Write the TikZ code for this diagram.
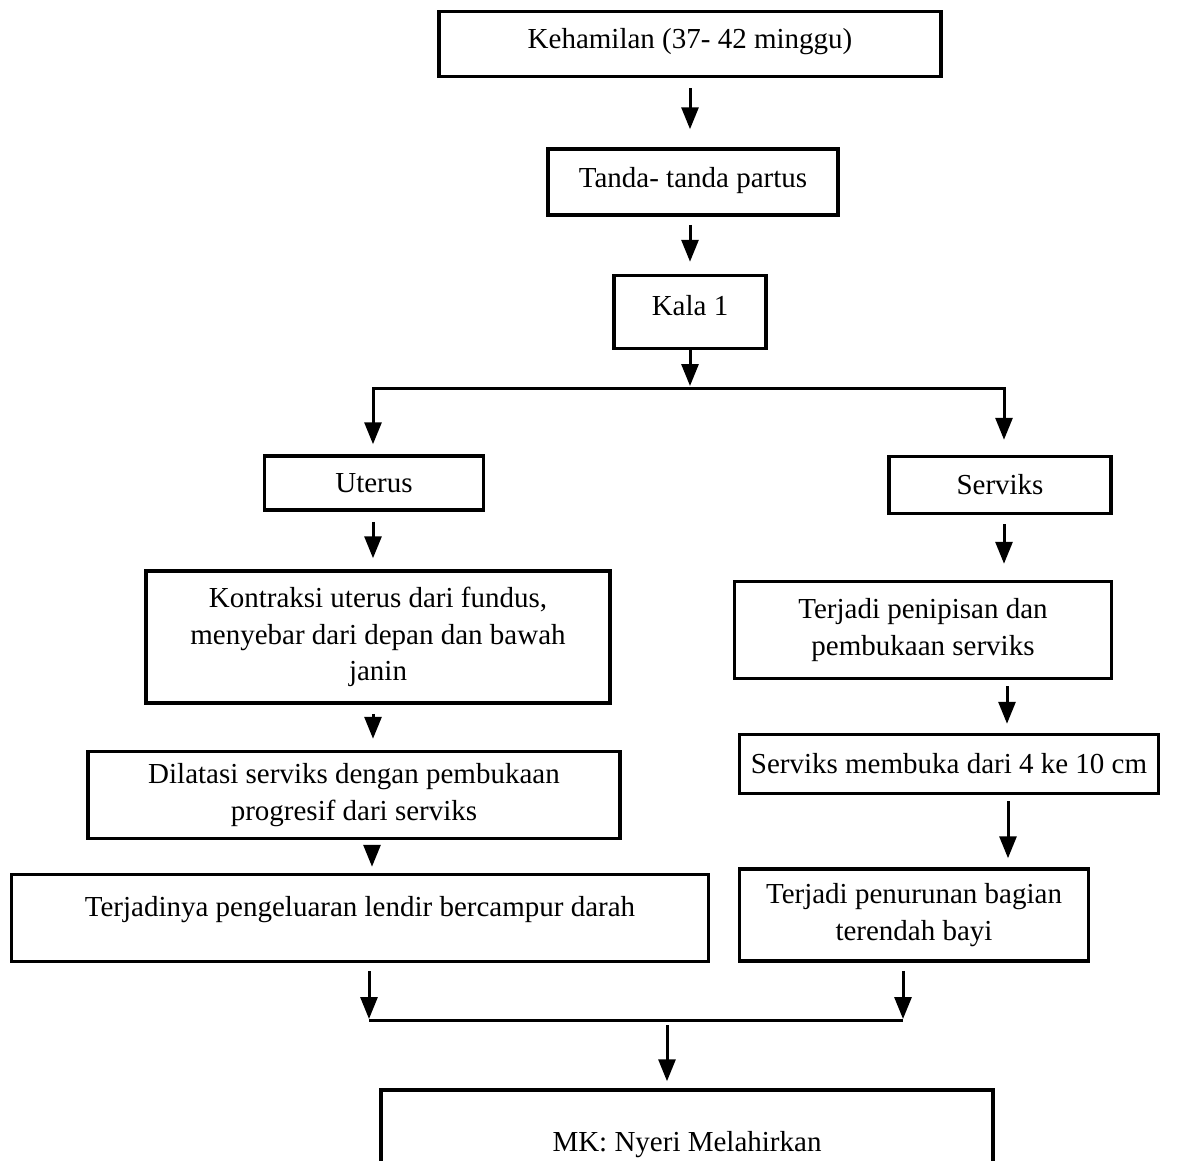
\documentclass[tikz,border=0pt]{standalone}
\usepackage{fontspec}
\setmainfont{Liberation Serif}
\usetikzlibrary{arrows.meta}

\begin{document}
\begin{tikzpicture}[x=1pt,y=-1pt,>={Triangle[width=17pt,length=22pt]},
	blok/.style={draw,rectangle,line width=3.5pt,inner sep=0pt,font=\fontsize{29}{36.5}\selectfont},
	panah/.style={->,line width=3pt}]
	
	\useasboundingbox (0,0) rectangle (1189,1160);
	\clip (0,0) rectangle (1189,1160);
	
	% kotak atas
	\node[blok, minimum height=65pt,minimum width=502pt,text depth=12pt] (hamil) at (690,44) {Kehamilan (37- 42 minggu)};
	\node[blok, minimum height=66pt,minimum width=290pt,text depth=10pt] (tanda) at (693,182) {Tanda- tanda partus};
	\node[blok, minimum height=73pt,minimum width=152pt,text depth=14pt] (kala) at (690,312) {Kala 1};
	
	% cabang kiri
	\node[blok, minimum height=54pt,minimum width=219pt] (uterus) at (374,483) {Uterus};
	\node[blok, minimum height=132pt,minimum width=464pt] (kontraksi) at (378,637) {\parbox{440pt}{\centering Kontraksi uterus dari fundus,\\menyebar dari depan dan bawah\\janin}};
	\node[blok, minimum height=87pt,minimum width=532pt] (dilatasi) at (354,795) {\parbox{500pt}{\centering Dilatasi serviks dengan pembukaan\\progresif dari serviks}};
	\node[blok, minimum height=87pt,minimum width=697pt,text depth=24pt] (lendir) at (360,918) {Terjadinya pengeluaran lendir bercampur darah};
	
	% cabang kanan
	\node[blok, minimum height=57pt,minimum width=222pt] (serviks) at (1000,485) {Serviks};
	\node[blok, minimum height=97pt,minimum width=377pt] (tipis) at (923,630) {\parbox{360pt}{\centering Terjadi penipisan dan\\pembukaan serviks}};
	\node[blok, minimum height=59pt,minimum width=419pt] (buka) at (949,764) {Serviks membuka dari 4 ke 10 cm};
	\node[blok, minimum height=92pt,minimum width=349pt] (turun) at (914,915) {\parbox{340pt}{\centering Terjadi penurunan bagian\\terendah bayi}};
	
	% kotak bawah
	\node[blok, minimum height=110pt,minimum width=612pt] (nyeri) at (687,1145) {MK: Nyeri Melahirkan};
	
	% titik percabangan
	\coordinate (pisah) at (690,388);
	\coordinate (kiri) at (373,388);
	\coordinate (kanan) at (1004,388);
	\coordinate (gabungkiri) at (369,1020);
	\coordinate (gabungkanan) at (903,1020);
	\coordinate (gabung) at (667,1020);
	
	% panah atas
	\draw[panah,shorten <=10pt,shorten >=18pt] (hamil.south) -- (hamil.south |- tanda.north);
	\draw[panah,shorten <=8pt,shorten >=12pt] (tanda.south -| kala.north) -- (kala.north);
	\draw[panah,shorten >=2pt] (kala.south) -- (pisah);
	\draw[panah,shorten >=10pt] (pisah) -| (kiri |- uterus.north);
	\draw[panah,shorten >=15pt] (pisah) -| (kanan |- serviks.north);
	
	% panah kiri
	\draw[panah,shorten <=10pt,shorten >=11pt] (kiri |- uterus.south) -- (kiri |- kontraksi.north);
	\draw[panah,shorten <=9pt,shorten >=11pt] (kiri |- kontraksi.south) -- (kiri |- dilatasi.north);
	\draw[panah,shorten <=6pt,shorten >=6pt] ([xshift=-1pt]kiri |- dilatasi.south) -- ([xshift=-1pt]kiri |- lendir.north);
	
	% panah kanan
	\draw[panah,shorten <=9pt,shorten >=16pt] (kanan |- serviks.south) -- (kanan |- tipis.north);
	\draw[panah,shorten <=6pt,shorten >=9pt] ([xshift=3pt]kanan |- tipis.south) -- ([xshift=3pt]kanan |- buka.north);
	\draw[panah,shorten <=6pt,shorten >=9pt] ([xshift=4pt]kanan |- buka.south) -- ([xshift=4pt]kanan |- turun.north);
	
	% gabungan bawah
	\draw[panah,shorten <=8pt,shorten >=1pt] (gabungkiri |- lendir.south) -- (gabungkiri);
	\draw[panah,shorten <=8pt,shorten >=1pt] (gabungkanan |- turun.south) -- (gabungkanan);
	\draw[line width=3pt] (gabungkiri) -- (gabungkanan);
	\draw[panah,shorten <=5pt,shorten >=7pt] (gabung) -- (gabung |- nyeri.north);
\end{tikzpicture}
\end{document}
